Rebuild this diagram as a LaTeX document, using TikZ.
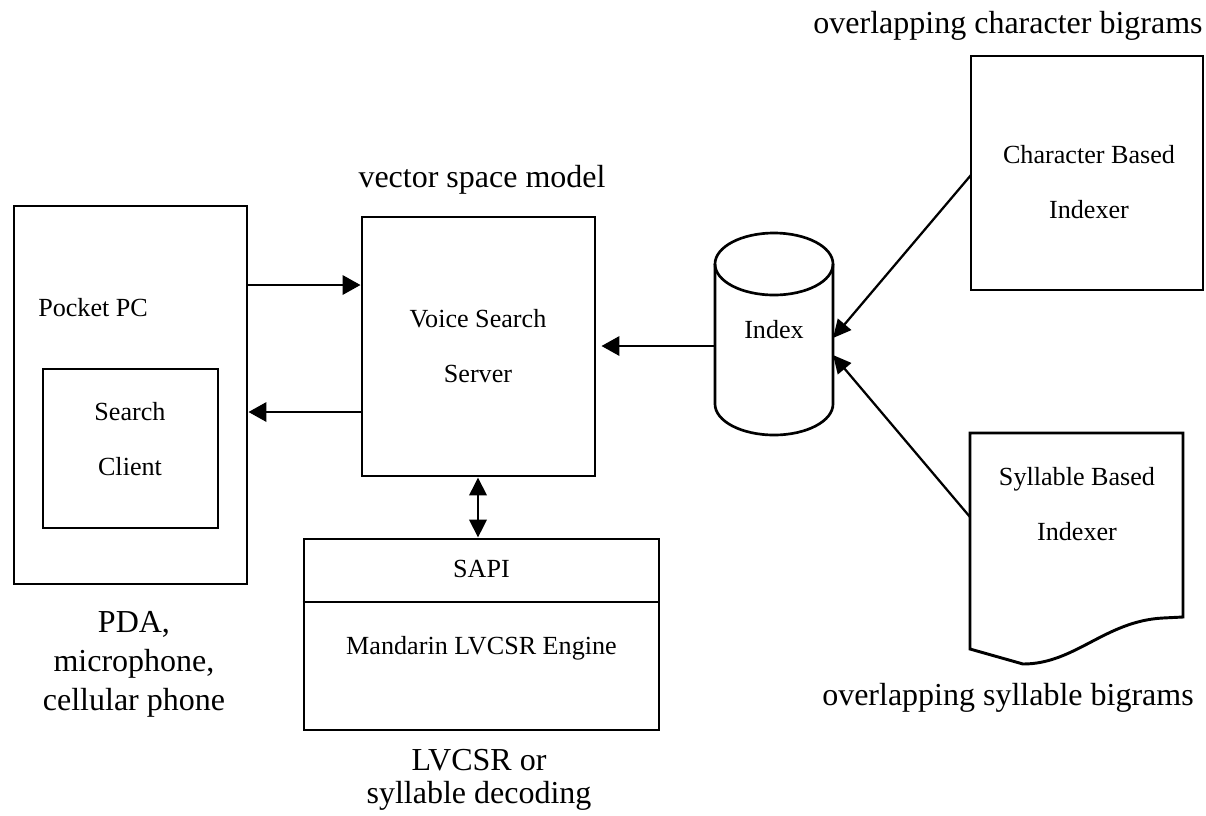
\documentclass[tikz,border=0pt]{standalone}
\usepackage{fontspec}
\setmainfont{Liberation Serif}
\usetikzlibrary{arrows.meta,fit,calc}

\begin{document}
\begin{tikzpicture}[x=0.75pt,y=-0.75pt,
  box/.style={draw,line width=2.2pt,inner sep=0pt},
  region/.style={inner sep=0pt},
  boxtext/.style={font=\fontsize{19.6pt}{23pt}\selectfont,anchor=base,inner sep=0pt},
  outtext/.style={font=\fontsize{24pt}{28pt}\selectfont,anchor=base,inner sep=0pt},
  arr/.style={line width=1.9pt,-{Triangle[length=13.5pt,width=14.5pt]}},
  darr/.style={line width=1.9pt,{Triangle[length=13.5pt,width=13pt]}-{Triangle[length=13.5pt,width=13pt]}},
  diag/.style={line width=1.7pt,-{Triangle[length=13.5pt,width=13pt]}}]

\path[use as bounding box] (0,0) rectangle (1206,815);

% corner points of the boxes
\coordinate (pdaA) at (14,206);    \coordinate (pdaB) at (247,584);
\coordinate (cliA) at (43,369);    \coordinate (cliB) at (218,528);
\coordinate (srvA) at (362,217);   \coordinate (srvB) at (595,476);
\coordinate (sapA) at (304,539);   \coordinate (sapB) at (659,730);
\coordinate (idxA) at (715,233);   \coordinate (idxB) at (833,435);
\coordinate (chA) at (971,56);     \coordinate (chB) at (1203,290);
\coordinate (syA) at (970,433);    \coordinate (syB) at (1183,649);

% client side
\node[box,fit=(pdaA)(pdaB)] (pda) {};
\node[box,fit=(cliA)(cliB)] (client) {};
\node[boxtext,anchor=base west] (pdatxt) at (38,316) {Pocket PC};
\node[boxtext] (client1) at (130,420) {Search};
\node[boxtext] (client2) at (130,475) {Client};

% server
\node[box,fit=(srvA)(srvB)] (server) {};
\node[boxtext] (server1) at (478,327) {Voice Search};
\node[boxtext] (server2) at (478,382) {Server};

% speech engine
\node[box,fit=(sapA)(sapB)] (sapi) {};
\coordinate (ysplit) at (0,602);
\draw[line width=2.2pt] (sapi.west |- ysplit) -- (sapi.east |- ysplit);
\node[boxtext] (sapitxt) at (481.5,577) {SAPI};
\node[boxtext] (engine) at (481.5,654) {Mandarin LVCSR Engine};

% index database
\draw[line width=2pt] (715,264) -- (715,404)
  arc[start angle=180,end angle=360,x radius=44.25pt,y radius=23.25pt]
  -- (833,264);
\draw[line width=2pt] (774,264) ellipse[x radius=44.25pt,y radius=23.25pt];
\node[region,fit=(idxA)(idxB)] (index) {};
\node[boxtext] (indextxt) at (774,338) {Index};

% indexers
\node[box,fit=(chA)(chB)] (charidx) {};
\node[boxtext] (char1) at (1089,163) {Character Based};
\node[boxtext] (char2) at (1089,218) {Indexer};

\draw[line width=2.2pt] (970,433) -- (1183,433) -- (1183,617) -- (1163,618)
  .. controls (1105,621) and (1075,664) .. (1023,664) -- (970,649) -- cycle;
\node[region,fit=(syA)(syB)] (sylidx) {};
\node[boxtext] (syl1) at (1077,485) {Syllable Based};
\node[boxtext] (syl2) at (1077,540) {Indexer};

% connectors
\coordinate (yreq) at (0,285);
\coordinate (yres) at (0,412);
\coordinate (yidx) at (0,346);
\coordinate (xsapi) at (478,0);
\coordinate (charout) at (971,175);
\coordinate (sylout) at (970,517);
\coordinate (inA) at (833,338);
\coordinate (inB) at (833,355);

\draw[arr] (pda.east |- yreq) -- (server.west |- yreq);
\draw[arr] (server.west |- yres) -- (pda.east |- yres);
\draw[arr,shorten >=3.75pt] (index.west |- yidx) -- (server.east |- yidx);
\draw[darr] (server.south -| xsapi) -- (sapi.north -| xsapi);
\draw[diag] (charout) -- (inA);
\draw[diag] (sylout) -- (inB);

% annotations
\node[outtext] (charnote) at (1008,33) {overlapping character bigrams};
\node[outtext] (vsm) at (482,187) {vector space model};
\node[outtext] (dev1) at (134,632) {PDA,};
\node[outtext] (dev2) at (134,671) {microphone,};
\node[outtext] (dev3) at (134,710) {cellular phone};
\node[outtext] (dec1) at (479,770) {LVCSR or};
\node[outtext] (dec2) at (479,803) {syllable decoding};
\node[outtext] (sylnote) at (1008,705) {overlapping syllable bigrams};
\end{tikzpicture}
\end{document}
